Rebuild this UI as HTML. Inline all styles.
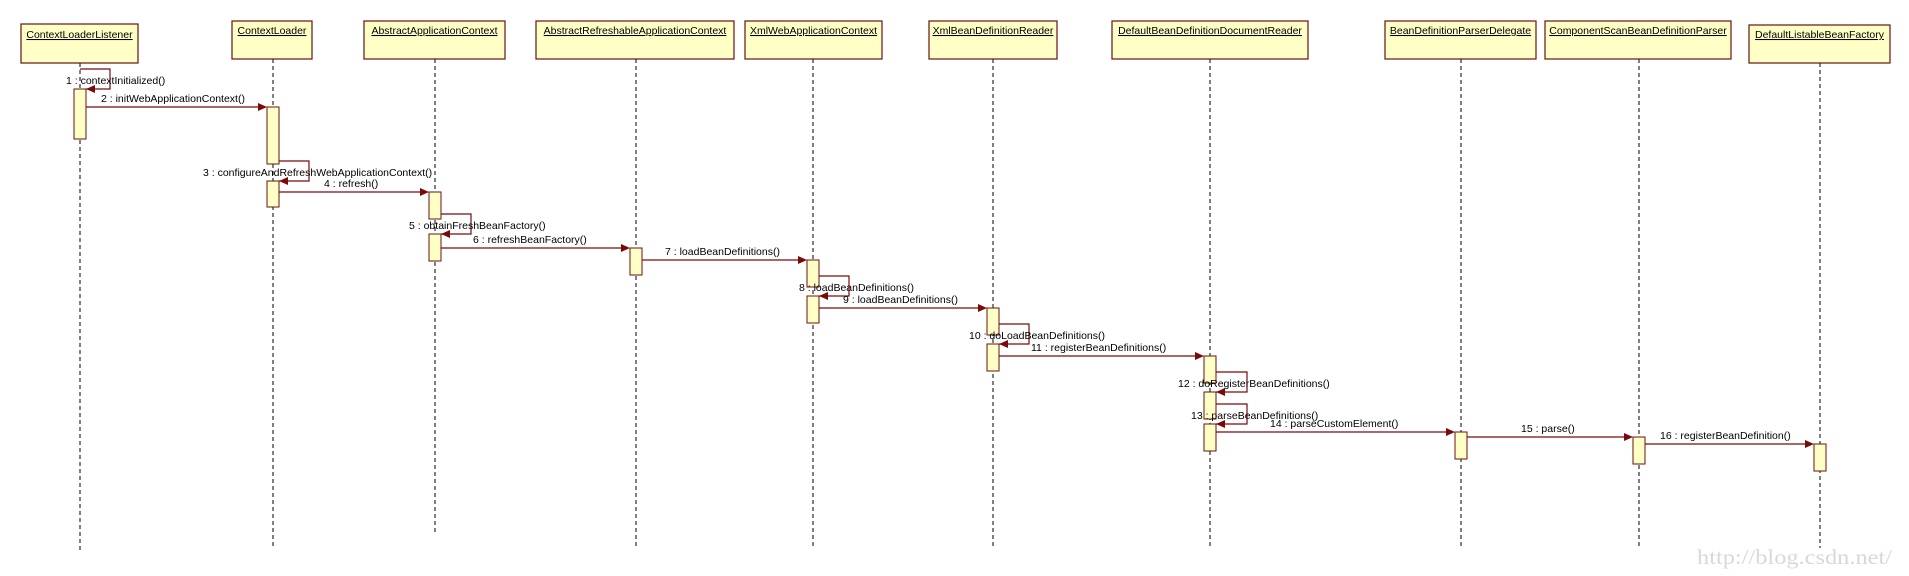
<!DOCTYPE html>
<html><head><meta charset="utf-8"><style>
html,body{margin:0;padding:0;background:#fff;}
svg{display:block;}
text{font-family:"Liberation Sans","DejaVu Sans",sans-serif;font-size:10.5px;fill:#000;}
.t{text-decoration:underline;}
.box{fill:#ffffc6;stroke:#6b1010;stroke-width:1.2;}
.act{fill:#ffffc6;stroke:#6b1010;stroke-width:1;}
.ll{stroke:#000;stroke-width:1;stroke-dasharray:4,3;}
.m{stroke:#7a0a0a;stroke-width:1.2;fill:none;}
.ah{fill:#7a0a0a;}
</style></head><body>
<svg width="1909" height="576" viewBox="0 0 1909 576" xmlns="http://www.w3.org/2000/svg">
<!-- lifelines -->
<line class="ll" x1="80" y1="63" x2="80" y2="553"/>
<line class="ll" x1="273" y1="59" x2="273" y2="548"/>
<line class="ll" x1="435" y1="59" x2="435" y2="535"/>
<line class="ll" x1="636" y1="59" x2="636" y2="548"/>
<line class="ll" x1="813" y1="59" x2="813" y2="548"/>
<line class="ll" x1="993" y1="59" x2="993" y2="548"/>
<line class="ll" x1="1210" y1="59" x2="1210" y2="548"/>
<line class="ll" x1="1461" y1="59" x2="1461" y2="548"/>
<line class="ll" x1="1639" y1="59" x2="1639" y2="548"/>
<line class="ll" x1="1820" y1="63" x2="1820" y2="548"/>

<!-- boxes -->
<rect class="box" x="21" y="24" width="117" height="39"/>
<text class="t" x="79.5" y="38" text-anchor="middle">ContextLoaderListener</text>
<rect class="box" x="232" y="21" width="80" height="38"/>
<text class="t" x="272" y="34" text-anchor="middle">ContextLoader</text>
<rect class="box" x="364" y="21" width="141" height="38"/>
<text class="t" x="434.5" y="34" text-anchor="middle">AbstractApplicationContext</text>
<rect class="box" x="536" y="21" width="198" height="38"/>
<text class="t" x="635" y="34" text-anchor="middle">AbstractRefreshableApplicationContext</text>
<rect class="box" x="745" y="21" width="137" height="38"/>
<text class="t" x="813.5" y="34" text-anchor="middle">XmlWebApplicationContext</text>
<rect class="box" x="929" y="21" width="128" height="38"/>
<text class="t" x="993" y="34" text-anchor="middle">XmlBeanDefinitionReader</text>
<rect class="box" x="1112" y="21" width="196" height="38"/>
<text class="t" x="1210" y="34" text-anchor="middle">DefaultBeanDefinitionDocumentReader</text>
<rect class="box" x="1385" y="21" width="151" height="38"/>
<text class="t" x="1460.5" y="34" text-anchor="middle">BeanDefinitionParserDelegate</text>
<rect class="box" x="1545" y="21" width="186" height="38"/>
<text class="t" x="1638" y="34" text-anchor="middle">ComponentScanBeanDefinitionParser</text>
<rect class="box" x="1749" y="25" width="141" height="38"/>
<text class="t" x="1819.5" y="38" text-anchor="middle">DefaultListableBeanFactory</text>

<!-- activations -->
<rect class="act" x="74" y="89" width="12" height="50"/>
<rect class="act" x="267" y="107" width="12" height="57"/>
<rect class="act" x="267" y="181" width="12" height="26"/>
<rect class="act" x="429" y="192" width="12" height="27"/>
<rect class="act" x="429" y="234" width="12" height="27"/>
<rect class="act" x="630" y="248" width="12" height="27"/>
<rect class="act" x="807" y="260" width="12" height="27"/>
<rect class="act" x="807" y="296" width="12" height="27"/>
<rect class="act" x="987" y="308" width="12" height="27"/>
<rect class="act" x="987" y="344" width="12" height="27"/>
<rect class="act" x="1204" y="356" width="12" height="27"/>
<rect class="act" x="1204" y="392" width="12" height="27"/>
<rect class="act" x="1204" y="424" width="12" height="27"/>
<rect class="act" x="1455" y="432" width="12" height="27"/>
<rect class="act" x="1633" y="437" width="12" height="27"/>
<rect class="act" x="1814" y="444" width="12" height="27"/>

<!-- 1 self -->
<polyline class="m" points="80,69 110,69 110,89 86,89"/>
<polygon class="ah" points="86,89 95,85 95,93"/>
<text x="66" y="84">1 : contextInitialized()</text>
<!-- 2 -->
<line class="m" x1="86" y1="107" x2="259" y2="107"/>
<polygon class="ah" points="267,107 258,103 258,111"/>
<text x="101" y="102">2 : initWebApplicationContext()</text>
<!-- 3 self -->
<polyline class="m" points="279,161 309,161 309,181 279,181"/>
<polygon class="ah" points="279,181 288,177 288,185"/>
<text x="203" y="176">3 : configureAndRefreshWebApplicationContext()</text>
<!-- 4 -->
<line class="m" x1="279" y1="192" x2="421" y2="192"/>
<polygon class="ah" points="429,192 420,188 420,196"/>
<text x="324" y="187">4 : refresh()</text>
<!-- 5 -->
<polyline class="m" points="441,214 471,214 471,234 441,234"/>
<polygon class="ah" points="441,234 450,230 450,238"/>
<text x="409" y="229">5 : obtainFreshBeanFactory()</text>
<!-- 6 -->
<line class="m" x1="441" y1="248" x2="622" y2="248"/>
<polygon class="ah" points="630,248 621,244 621,252"/>
<text x="473" y="243">6 : refreshBeanFactory()</text>
<!-- 7 -->
<line class="m" x1="642" y1="260" x2="799" y2="260"/>
<polygon class="ah" points="807,260 798,256 798,264"/>
<text x="665" y="255">7 : loadBeanDefinitions()</text>
<!-- 8 -->
<polyline class="m" points="819,276 849,276 849,296 819,296"/>
<polygon class="ah" points="819,296 828,292 828,300"/>
<text x="799" y="291">8 : loadBeanDefinitions()</text>
<!-- 9 -->
<line class="m" x1="819" y1="308" x2="979" y2="308"/>
<polygon class="ah" points="987,308 978,304 978,312"/>
<text x="843" y="303">9 : loadBeanDefinitions()</text>
<!-- 10 -->
<polyline class="m" points="999,324 1029,324 1029,344 999,344"/>
<polygon class="ah" points="999,344 1008,340 1008,348"/>
<text x="969" y="339">10 : doLoadBeanDefinitions()</text>
<!-- 11 -->
<line class="m" x1="999" y1="356" x2="1196" y2="356"/>
<polygon class="ah" points="1204,356 1195,352 1195,360"/>
<text x="1031" y="351">11 : registerBeanDefinitions()</text>
<!-- 12 -->
<polyline class="m" points="1216,372 1247,372 1247,392 1216,392"/>
<polygon class="ah" points="1216,392 1225,388 1225,396"/>
<text x="1178" y="387">12 : doRegisterBeanDefinitions()</text>
<!-- 13 -->
<polyline class="m" points="1216,404 1247,404 1247,424 1216,424"/>
<polygon class="ah" points="1216,424 1225,420 1225,428"/>
<text x="1191" y="419">13 : parseBeanDefinitions()</text>
<!-- 14 -->
<line class="m" x1="1216" y1="432" x2="1447" y2="432"/>
<polygon class="ah" points="1455,432 1446,428 1446,436"/>
<text x="1270" y="427">14 : parseCustomElement()</text>
<!-- 15 -->
<line class="m" x1="1467" y1="437" x2="1625" y2="437"/>
<polygon class="ah" points="1633,437 1624,433 1624,441"/>
<text x="1521" y="432">15 : parse()</text>
<!-- 16 -->
<line class="m" x1="1645" y1="444" x2="1806" y2="444"/>
<polygon class="ah" points="1814,444 1805,440 1805,448"/>
<text x="1660" y="439">16 : registerBeanDefinition()</text>

<text x="1697" y="564" textLength="195" lengthAdjust="spacingAndGlyphs" style="font-family:'Liberation Serif',serif;font-size:21px;fill:#d8d8d8;">http://blog.csdn.net/</text>
</svg>
</body></html>
